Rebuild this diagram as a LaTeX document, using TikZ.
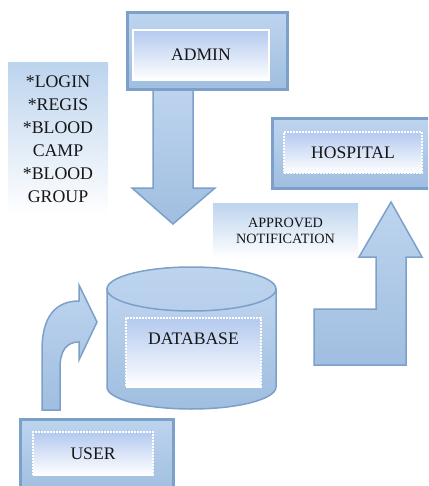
\documentclass[tikz,border=0pt]{standalone}
\usepackage{fontspec}
\setmainfont{Liberation Serif}
\usetikzlibrary{positioning}

\definecolor{edgeblue}{HTML}{7CA0C9}
\definecolor{lightblue}{HTML}{BDD4EE}
\definecolor{midblue}{HTML}{A0BEE0}
\definecolor{inkblack}{HTML}{161616}

\tikzset{
    outerbox/.style={draw=edgeblue,line width=3pt,top color=lightblue,bottom color=midblue,inner sep=0pt},
    innerbox/.style={draw=white,line width=2pt,top color=lightblue!95!blue,bottom color=white,text=inkblack,inner sep=0pt},
    dotbox/.style={innerbox,densely dotted},
    fadebox/.style={top color=lightblue,bottom color=white,text=inkblack,inner sep=0pt,align=center},
    blockarrow/.style={draw=edgeblue,line width=1.5pt,line join=miter,top color=lightblue,bottom color=midblue},
    label/.style={font=\fontsize{17.6}{20}\selectfont}
}

\begin{document}
\begin{tikzpicture}[x=1pt,y=-1pt]
    \useasboundingbox (0,0) rectangle (428,486);
    \clip (0,0) rectangle (428,486);

    \path[blockarrow] (153,88) -- (193,88) -- (193,188) -- (215,188) -- (173,224)
        -- (132,188) -- (153,188) -- cycle;
    \node[outerbox,minimum width=160,minimum height=77] (adminbox) at (207,51.5) {};
    \node[innerbox,label,minimum width=136,minimum height=50] (admin) at (201,55) {ADMIN};

    \node[fadebox,minimum width=100,minimum height=152,font=\fontsize{17.8}{23}\selectfont] (tasks) at (58,139)
        {*LOGIN\\*REGIS\\*BLOOD\\CAMP\\*BLOOD\\GROUP};

    \node[outerbox,minimum width=166,minimum height=69] (hospitalbox) at (355,153.5) {};
    \node[dotbox,label,minimum width=138,minimum height=41] (hospital) at (353,152.5) {HOSPITAL};

    \node[fadebox,minimum width=145,minimum height=55,font=\fontsize{14.2}{16}\selectfont] (notify) at (285.5,230.5)
        {APPROVED\\NOTIFICATION};

    \path[blockarrow] (314,309) -- (376,309) -- (376,257) -- (359,257) -- (391,202)
        -- (422,257) -- (406,257) -- (406,365) -- (314,365) -- cycle;

    \path[blockarrow] (107,289) -- (107,387) arc[start angle=180,end angle=0,x radius=84.5,y radius=22]
        -- (276,289) -- cycle;
    \path[blockarrow,top color=lightblue,bottom color=lightblue!80!midblue] (191.5,289) ellipse[x radius=84.5,y radius=22];
    \node[dotbox,label,minimum width=135,minimum height=69,text depth=28pt] (database) at (193.5,352.5) {DATABASE};

    \path[blockarrow] (42,410) -- (42,350) .. controls (42,316) and (56,301) .. (79,301)
        -- (79,285) -- (97,322) -- (79,360) -- (79,342) .. controls (67,342) and (60,350) .. (60,368)
        -- (60,410) -- cycle;

    \node[outerbox,minimum width=153,minimum height=75] (userbox) at (96.5,456.5) {};
    \node[dotbox,label,minimum width=120,minimum height=43] (user) at (93,453.5) {USER};
\end{tikzpicture}
\end{document}
